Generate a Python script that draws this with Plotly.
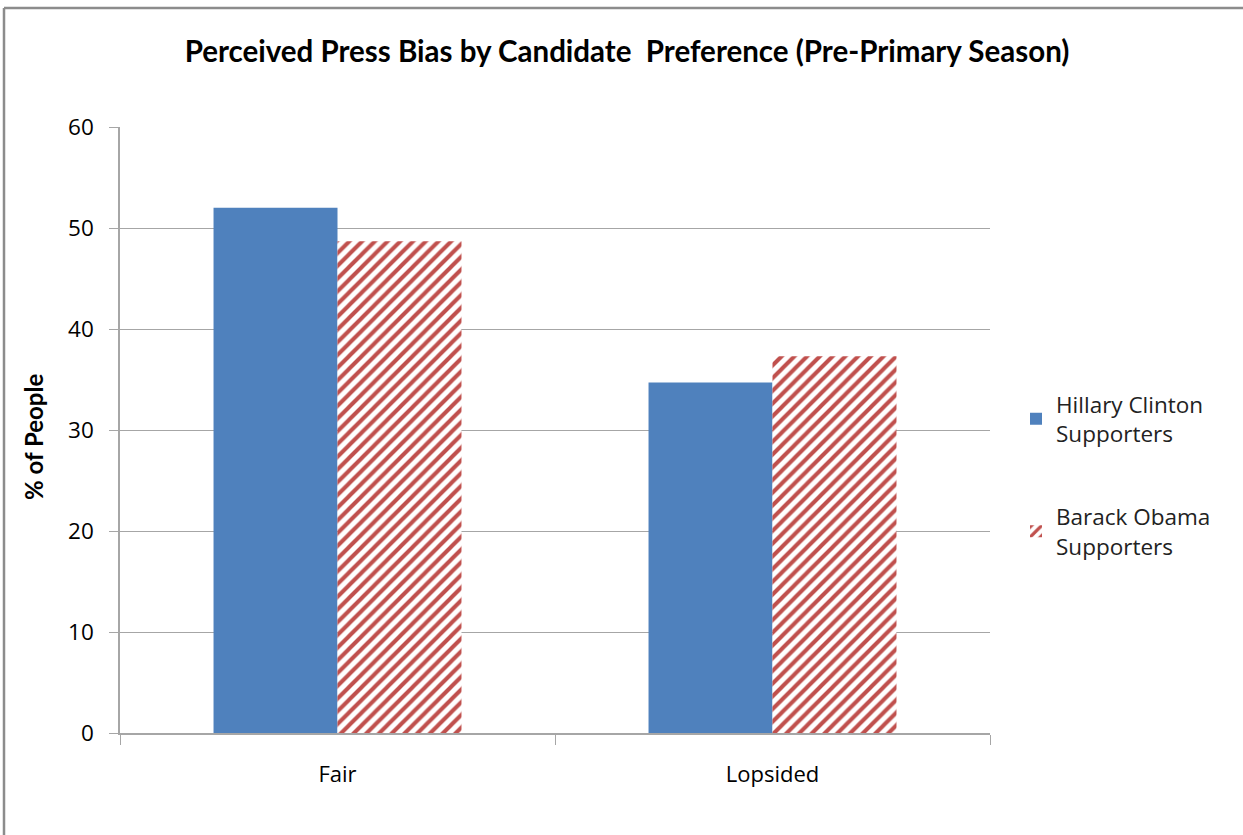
import plotly.graph_objects as go

# Survey results: share of respondents by perceived press coverage
categories = ["Fair", "Lopsided"]
clinton_pct = [52.0, 34.7]
obama_pct = [48.7, 37.3]
series_names = ["Hillary Clinton<br>Supporters", "Barack Obama<br>Supporters"]
y_ticks = [0, 10, 20, 30, 40, 50, 60]

W, H = 1243, 835
L, R, T, B = 120, 253, 127, 102
pw, ph = W - L - R, H - T - B

BLUE = "#4F81BD"
RED = "#C0504D"
GRID = "#A6A6A6"
TEXT_FONT = "Open Sans"
HEAD_FONT = "Lato"

fig = go.Figure()
fig.add_trace(go.Bar(
    x=categories, y=clinton_pct, name=series_names[0],
    marker=dict(color=BLUE, line=dict(width=0)),
    legendgroup="a",
))
fig.add_trace(go.Bar(
    x=categories, y=obama_pct, name=series_names[1],
    marker=dict(color="white", line=dict(width=0),
                pattern=dict(shape="/", fgcolor=RED, bgcolor="white",
                             fgopacity=1, fillmode="replace",
                             size=9, solidity=0.45)),
    legendgroup="b",
))

def px_x(px):
    return (px - L) / pw

def px_y(py):
    return (H - B - py) / ph

# Outer chart frame (left and top edges visible)
fig.add_shape(type="line", xref="paper", yref="paper",
              x0=px_x(4), x1=px_x(4), y0=px_y(8), y1=px_y(840),
              line=dict(color="#8C8C8C", width=2.5))
fig.add_shape(type="line", xref="paper", yref="paper",
              x0=px_x(4), x1=px_x(1250), y0=px_y(8), y1=px_y(8),
              line=dict(color="#8C8C8C", width=2.5))

fig.add_annotation(
    text="<b>% of People</b>", textangle=-90, showarrow=False,
    xref="paper", yref="paper", x=px_x(33), y=px_y(437),
    xanchor="center", yanchor="middle",
    font=dict(family=HEAD_FONT, size=24, color="black"),
)

fig.update_layout(
    width=W, height=H,
    margin=dict(l=L, r=R, t=T, b=B),
    paper_bgcolor="white", plot_bgcolor="white",
    barmode="group", bargap=0.43, bargroupgap=0,
    title=dict(text="<b>Perceived Press Bias by Candidate  Preference (Pre-Primary Season)</b>",
               x=(627 - L) / pw, xanchor="center", y=1 - 52 / H, yanchor="middle",
               xref="paper",
               font=dict(family=HEAD_FONT, size=29.5, color="black")),
    font=dict(family=TEXT_FONT, color="black"),
    showlegend=True,
    legend=dict(x=px_x(1016), y=px_y(475), xanchor="left", yanchor="middle",
                font=dict(family=TEXT_FONT, size=22.5, color="#222"),
                tracegroupgap=51, traceorder="grouped",
                bgcolor="rgba(0,0,0,0)", itemwidth=30),
)

fig.update_xaxes(
    type="category", showgrid=False,
    showline=True, linecolor=GRID, linewidth=1.5,
    ticks="outside", tickson="boundaries", ticklen=10, tickcolor=GRID,
    ticklabelstandoff=21,
    tickfont=dict(family=TEXT_FONT, size=22, color="black"),
)
fig.update_yaxes(
    range=[0, 60], tickvals=y_ticks,
    showgrid=True, gridcolor=GRID, gridwidth=1,
    showline=True, linecolor=GRID, linewidth=1.5,
    ticks="outside", ticklen=9, tickcolor=GRID,
    ticklabelstandoff=11,
    tickfont=dict(family=TEXT_FONT, size=22.5, color="black"),
    zeroline=False,
)

fig.write_html("out.html")
